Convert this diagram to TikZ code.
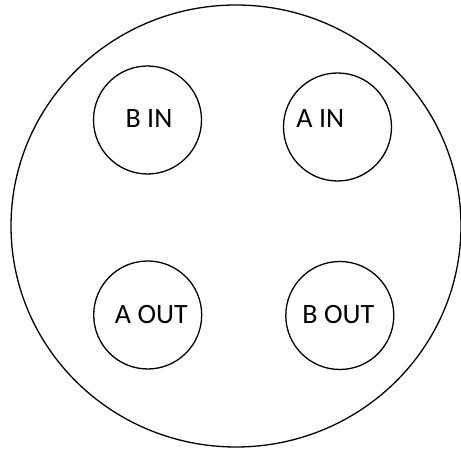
\documentclass[tikz,border=0pt]{standalone}
\usepackage{fontspec}
\setmainfont{Carlito}
\usetikzlibrary{shapes.geometric}
\begin{document}
\begin{tikzpicture}[x=1pt,y=1pt,
  port/.style={draw, circle, line width=1.3pt, minimum size=108pt, inner sep=0pt},
  lbl/.style={anchor=base, inner sep=0pt, font=\fontsize{28}{34}\selectfont}]
\useasboundingbox (0,0) rectangle (461,449);
\node[draw, ellipse, line width=1.3pt, minimum width=450pt, minimum height=442pt, inner sep=0pt] (body) at (236,223) {};
\node[port] (bin) at (147.5,329) {};
\node[port] (ain) at (337.5,322) {};
\node[port] (aout) at (147.7,134) {};
\node[port] (bout) at (339.8,133.5) {};
\node[lbl] (tbin) at (149,321.3) {B IN};
\node[lbl] (tain) at (320.3,321.3) {A IN};
\node[lbl] (taout) at (151.3,125) {A OUT};
\node[lbl] (tbout) at (338.3,125) {B OUT};
\end{tikzpicture}
\end{document}
